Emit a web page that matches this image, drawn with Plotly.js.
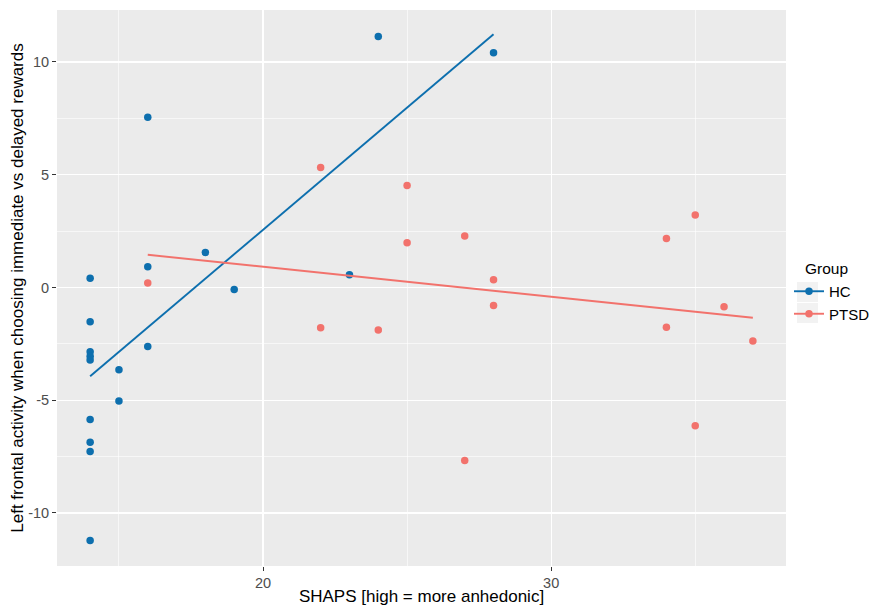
<!DOCTYPE html>
<html>
<head>
<meta charset="utf-8">
<script src="https://cdn.plot.ly/plotly-3.0.1.min.js"></script>
<style>html,body{margin:0;padding:0;background:#fff;}#chart{width:871px;height:606px;}</style>
</head>
<body>
<div id="chart"></div>
<script>
// ---- data ----
const groups = ["HC", "PTSD"];
const hcX = [16, 24, 28, 23, 14, 14, 14, 14, 14, 15, 16, 16, 18, 19, 15, 14, 14, 14, 14];
const hcY = [7.54, 11.13, 10.41, 0.56, 0.41, -1.52, -2.85, -3.05, -3.22, -3.65, 0.92, -2.62, 1.55, -0.09, -5.04, -5.85, -6.86, -7.27, -11.22];
const ptsdX = [16, 22, 22, 24, 25, 25, 27, 27, 28, 28, 34, 34, 35, 35, 36, 37];
const ptsdY = [0.2, 5.32, -1.79, -1.89, 4.52, 1.98, 2.28, -7.67, 0.34, -0.80, 2.17, -1.77, 3.21, -6.13, -0.86, -2.37];
const xTickVals = [20, 30];
const xTickText = ["20", "30"];
const xMinorVals = [15, 25, 35];
const yTickVals = [-10, -5, 0, 5, 10];
const yTickText = ["-10", "-5", "0", "5", "10"];
const yMinorVals = [-7.5, -2.5, 2.5, 7.5];
const xTitle = "SHAPS [high = more anhedonic]";
const yTitle = "Left frontal activity when choosing immediate vs delayed rewards";
const legendTitle = "Group";

const colors = {HC: "#0D6FAE", PTSD: "#F2726C"};
const FONT = "Liberation Sans, Arial, sans-serif";

// plot-area geometry (pixels) used to place legend decorations in paper coords
const W = 871, H = 606, ML = 57, MR = 85, MT = 10, MB = 40;
const PW = W - ML - MR, PH = H - MT - MB;
const px = v => (v - ML) / PW;
const py = v => 1 - (v - MT) / PH;

// ordinary least squares fit, drawn from min to max x (like geom_smooth(method = "lm"))
function lmLine(x, y) {
  const n = x.length;
  const mx = x.reduce((a, b) => a + b, 0) / n;
  const my = y.reduce((a, b) => a + b, 0) / n;
  let sxy = 0, sxx = 0;
  for (let i = 0; i < n; i++) { sxy += (x[i] - mx) * (y[i] - my); sxx += (x[i] - mx) ** 2; }
  const b = sxy / sxx, a = my - b * mx;
  const lo = Math.min(...x), hi = Math.max(...x);
  const xs = [], ys = [];
  for (let i = 0; i <= 80; i++) { const v = lo + (hi - lo) * i / 80; xs.push(v); ys.push(a + b * v); }
  return {xs, ys};
}

const series = {HC: [hcX, hcY], PTSD: [ptsdX, ptsdY]};
const traces = [];
groups.forEach(g => {
  const [x, y] = series[g];
  const fit = lmLine(x, y);
  traces.push({x: x, y: y, type: "scatter", mode: "markers", showlegend: false,
    marker: {color: colors[g], size: 7.5}, hoverinfo: "x+y"});
  traces.push({x: fit.xs, y: fit.ys, type: "scatter", mode: "lines", showlegend: false,
    line: {color: colors[g], width: 1.9}, hoverinfo: "skip"});
  // legend-only entry showing point + line key
  traces.push({x: [null], y: [null], type: "scatter", mode: "lines+markers", name: g,
    marker: {color: colors[g], size: 7.5}, line: {color: colors[g], width: 1.9}});
});

const layout = {
  width: W, height: H,
  margin: {l: ML, r: MR, t: MT, b: MB, pad: 0, autoexpand: false},
  paper_bgcolor: "#FFFFFF",
  plot_bgcolor: "#EBEBEB",
  font: {family: FONT, color: "#000000"},
  xaxis: {
    range: [12.85, 38.15], tickmode: "array", tickvals: xTickVals, ticktext: xTickText,
    ticks: "outside", ticklen: 4, tickwidth: 1, tickcolor: "#333333",
    tickfont: {family: FONT, size: 14.5, color: "#4D4D4D"},
    showgrid: true, gridcolor: "#FFFFFF", gridwidth: 1.3, zeroline: false, showline: false,
    minor: {tickmode: "array", tickvals: xMinorVals, showgrid: true, gridcolor: "#FFFFFF", gridwidth: 0.6, ticks: ""},
    title: {text: xTitle, font: {family: FONT, size: 17, color: "#000000"}, standoff: 1}
  },
  yaxis: {
    range: [-12.35, 12.3], tickmode: "array", tickvals: yTickVals, ticktext: yTickText,
    ticks: "outside", ticklen: 4, tickwidth: 1, tickcolor: "#333333",
    tickfont: {family: FONT, size: 14.5, color: "#4D4D4D"},
    showgrid: true, gridcolor: "#FFFFFF", gridwidth: 1.3, zeroline: false, showline: false,
    minor: {tickmode: "array", tickvals: yMinorVals, showgrid: true, gridcolor: "#FFFFFF", gridwidth: 0.6, ticks: ""},
    title: {text: yTitle, font: {family: FONT, size: 17, color: "#000000"}, standoff: 0}
  },
  legend: {
    x: px(789), xanchor: "left", y: py(302.5), yanchor: "middle",
    bgcolor: "rgba(0,0,0,0)", borderwidth: 0,
    font: {family: FONT, size: 15, color: "#000000"},
    itemwidth: 30, tracegroupgap: 0
  },
  annotations: [{
    text: legendTitle, xref: "paper", yref: "paper", x: px(803), y: py(268),
    xanchor: "left", yanchor: "middle", showarrow: false,
    font: {family: FONT, size: 15.5, color: "#000000"}
  }],
  shapes: [
    {type: "rect", xref: "paper", yref: "paper", x0: px(797), x1: px(818), y0: py(282), y1: py(302),
     fillcolor: "#F2F2F2", line: {width: 0}, layer: "below"},
    {type: "rect", xref: "paper", yref: "paper", x0: px(797), x1: px(818), y0: py(303), y1: py(323),
     fillcolor: "#F2F2F2", line: {width: 0}, layer: "below"}
  ],
  showlegend: true
};

Plotly.newPlot("chart", traces, layout, {displayModeBar: false, staticPlot: true});
</script>
</body>
</html>
